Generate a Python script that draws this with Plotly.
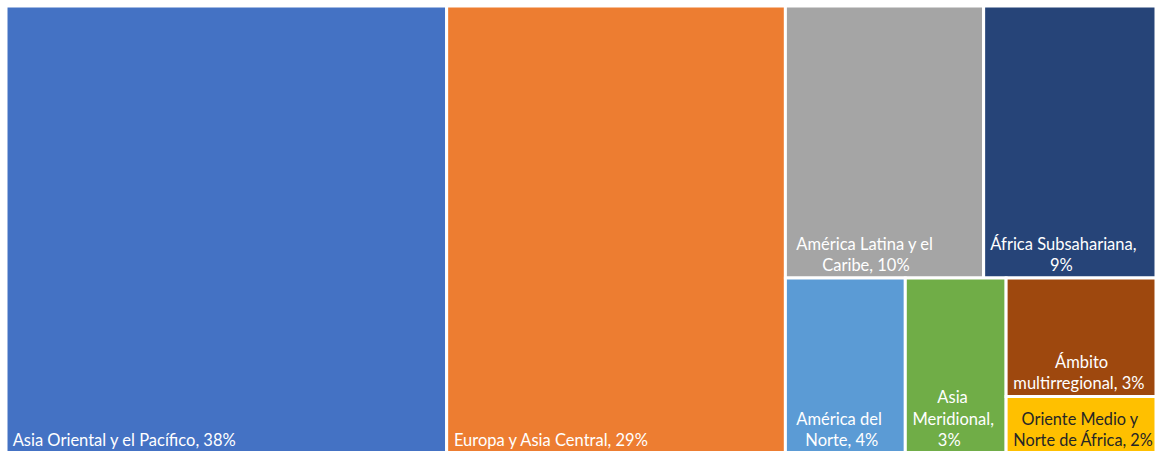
import plotly.graph_objects as go

NB = "\u00a0"

regions = ["Asia Oriental y el Pacífico", "Europa y Asia Central", "América Latina y el Caribe",
           "África Subsahariana", "América del Norte", "Asia Meridional",
           "Ámbito multirregional", "Oriente Medio y Norte de África"]
shares = [38.31, 29.45, 10.49, 9.12, 4.08, 3.43, 3.45, 1.65]
pct_labels = ["38%", "29%", "10%", "9%", "4%", "3%", "3%", "2%"]
# label lines as wrapped in the original, with leading spaces to centre the lines
label_lines = [
    [(1, "Asia Oriental y el Pacífico, 38%")],
    [(1, "Europa y Asia Central, 29%")],
    [(2, "América Latina y el"), (8, "Caribe, 10%")],
    [(1, "África Subsahariana,"), (15, "9%")],
    [(2, "América del"), (4, "Norte, 4%")],
    [(7, "Asia"), (1, "Meridional,"), (7, "3%")],
    [(11, "Ámbito"), (1, "multirregional, 3%")],
    [(3, "Oriente Medio y"), (1, "Norte de África, 2%")],
]
display_text = ["<br>".join(NB * n + s for n, s in lines) for lines in label_lines]
colors = ["#4472C4", "#ED7D31", "#A5A5A5", "#264478", "#5B9BD5", "#70AD47", "#9E480E", "#FFC000"]
text_colors = ["white"] * 7 + ["#262626"]

fig = go.Figure(go.Treemap(
    labels=regions,
    parents=[""] * len(regions),
    values=shares,
    text=display_text,
    textinfo="text",
    textposition="bottom left",
    textfont=dict(family="Lato, sans-serif", size=16.5, color=text_colors),
    sort=False,
    tiling=dict(packing="squarify", squarifyratio=1, pad=0),
    marker=dict(colors=colors, line=dict(color="white", width=3),
                pad=dict(t=0, l=0, r=0, b=0)),
    pathbar=dict(visible=False),
    hoverinfo="skip",
    root=dict(color="white"),
))

fig.update_layout(
    width=1158, height=453,
    margin=dict(l=5.5, r=1.5, t=5.5, b=0),
    paper_bgcolor="white",
    plot_bgcolor="white",
)

fig.write_html("out.html")
